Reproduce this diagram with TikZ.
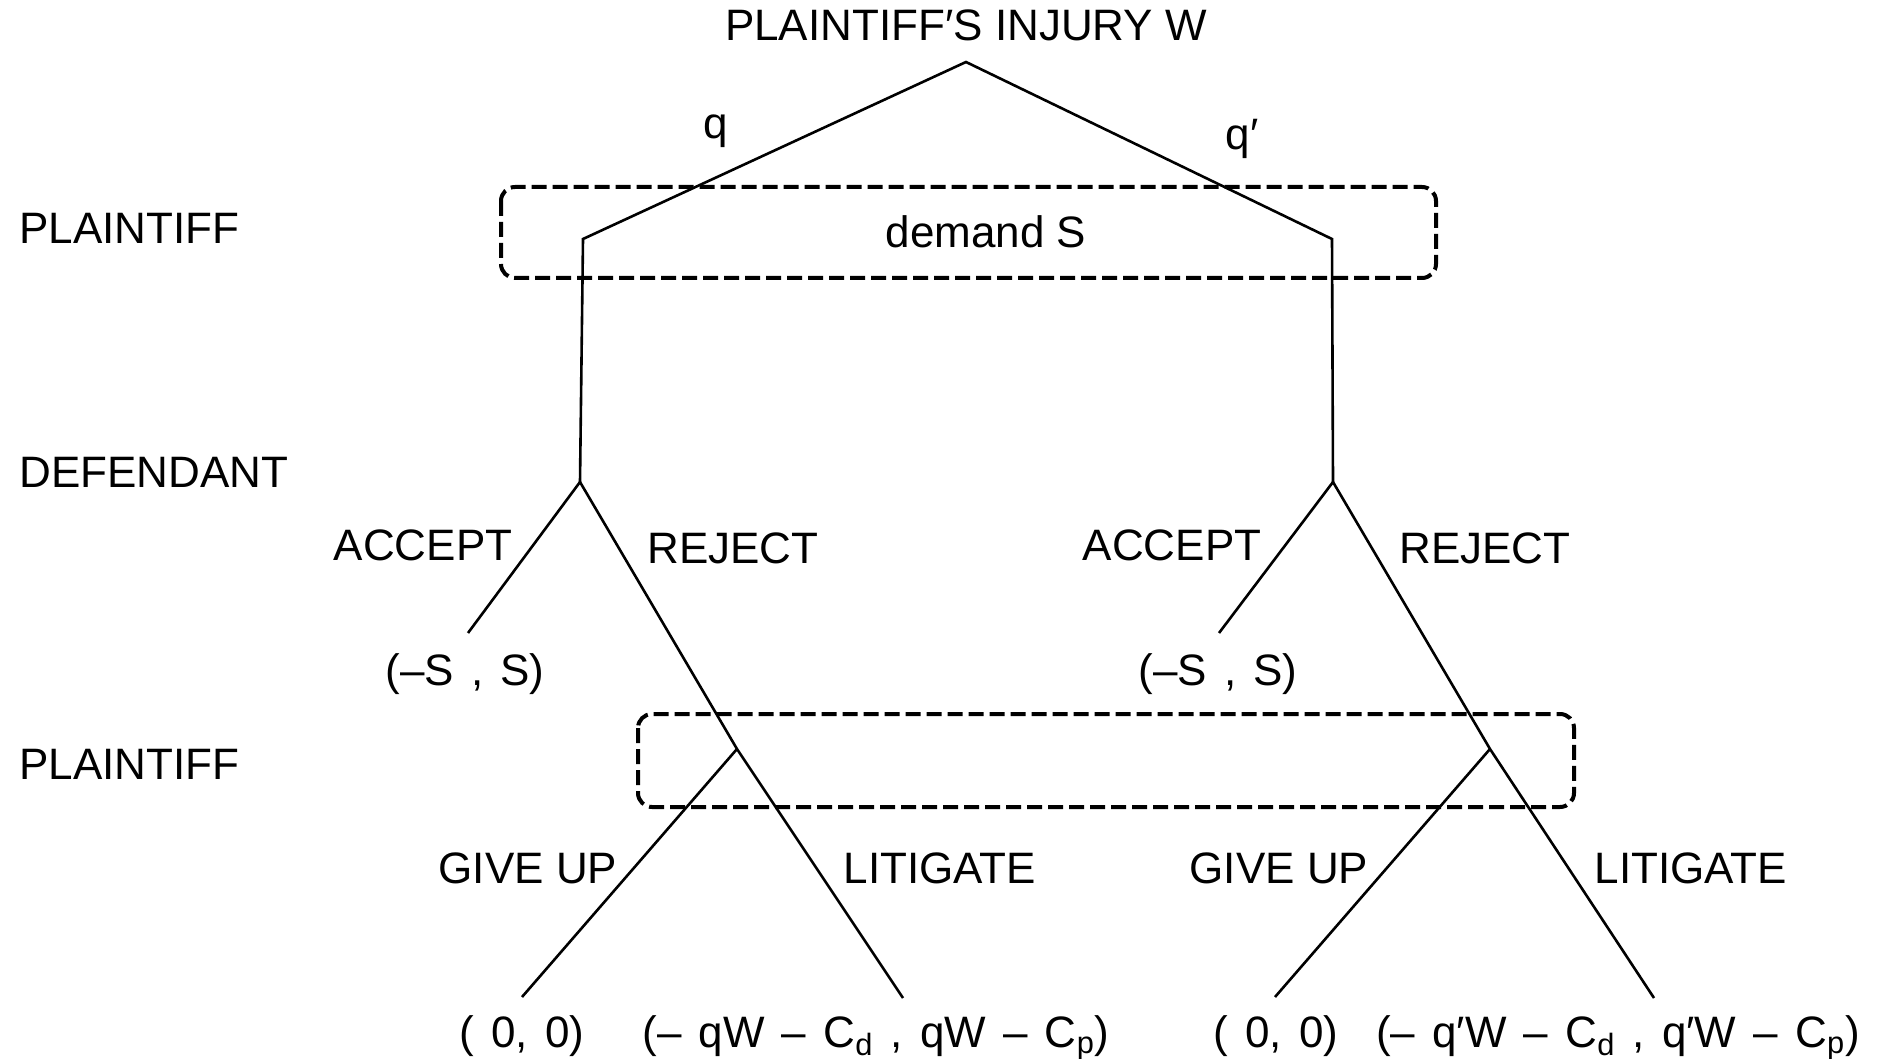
\documentclass[tikz,border=0pt]{standalone}
\usepackage{fontspec}
\setmainfont{Liberation Sans}
\begin{document}
\begin{tikzpicture}[x=0.5pt,y=-0.5pt,
  tree/.style={line width=1.3pt, line join=miter},
  infoset/.style={line width=2pt, dash pattern=on 7.5pt off 3pt, rounded corners=7pt},
  lbl/.style={inner sep=0pt, anchor=base, font=\fontsize{22}{26}\selectfont},
  pay/.style={lbl, execute at begin node={\spaceskip=8.6pt plus 1pt\relax}},
  side/.style={lbl, anchor=base west}]
\useasboundingbox (0,0) rectangle (1880,1059);
% tree vertices
\coordinate (root) at (966,62);
\coordinate (L1) at (583,239);
\coordinate (R1) at (1332,239);
\coordinate (LD) at (580,482);
\coordinate (RD) at (1333,482);
\coordinate (LA) at (468,633);
\coordinate (RA) at (1219,633);
\coordinate (LP) at (737,749);
\coordinate (RP) at (1490,749);
\coordinate (LG) at (522,997);
\coordinate (LL) at (903,998);
\coordinate (RG) at (1275,997);
\coordinate (RL) at (1654,998);
% information sets
\draw[infoset] (501,187) rectangle (1436,278);
\draw[infoset] (638,714) rectangle (1574,807);
% edges
\draw[tree] (LD) -- (L1) -- (root) -- (R1) -- (RD);
\draw[tree] (LA) -- (LD) -- (LP) -- (LL);
\draw[tree] (RA) -- (RD) -- (RP) -- (RL);
\draw[tree] (LG) -- (LP);
\draw[tree] (RG) -- (RP);
% labels
\node[lbl] (title) at (966,41) {PLAINTIFF′S INJURY W};
\node[lbl] (q) at (716,139) {q};
\node[lbl] (qp) at (1242,150) {q′};
\node[lbl] (dem) at (986,248) {demand S};
\node[side] (pl1) at (19,244) {PLAINTIFF};
\node[side] (def) at (19,487) {DEFENDANT};
\node[side] (pl2) at (19,779) {PLAINTIFF};
\node[lbl] (accL) at (423,560) {ACCEPT};
\node[lbl] (rejL) at (733,563) {REJECT};
\node[lbl] (accR) at (1172,560) {ACCEPT};
\node[lbl] (rejR) at (1485,563) {REJECT};
\node[pay] (payAL) at (465,685) {(–S , S)};
\node[pay] (payAR) at (1218,685) {(–S , S)};
\node[lbl] (gL) at (528,883) {GIVE UP};
\node[lbl] (litL) at (940,883) {LITIGATE};
\node[lbl] (gR) at (1279,883) {GIVE UP};
\node[lbl] (litR) at (1691,883) {LITIGATE};
\node[pay] (p00L) at (522,1047) {( 0, 0)};
\node[pay] (pLL) at (876,1047) {(– qW – C\textsubscript{d} , qW – C\textsubscript{p})};
\node[pay] (p00R) at (1276,1047) {( 0, 0)};
\node[pay] (pRL) at (1618,1047) {(– q′W – C\textsubscript{d} , q′W – C\textsubscript{p})};
\end{tikzpicture}
\end{document}
